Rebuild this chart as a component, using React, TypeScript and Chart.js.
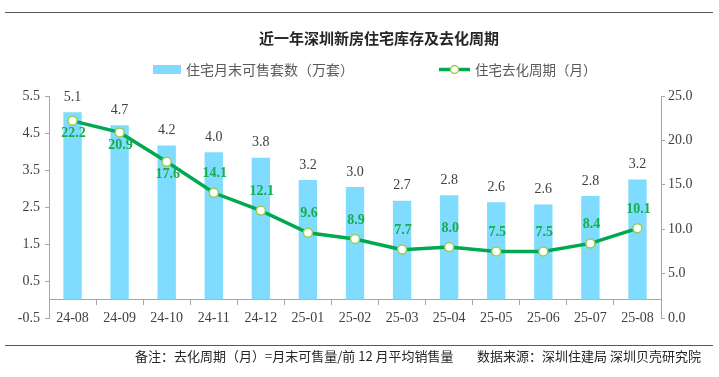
import React, { useEffect, useRef } from "react";
import { Chart, registerables } from "chart.js";

Chart.register(...registerables);

// ---------------- data ----------------
const categories = ["24-08", "24-09", "24-10", "24-11", "24-12", "25-01", "25-02", "25-03", "25-04", "25-05", "25-06", "25-07", "25-08"];
// 住宅月末可售套数（万套）
const inventory = [5.06, 4.71, 4.16, 3.98, 3.83, 3.23, 3.04, 2.67, 2.82, 2.63, 2.57, 2.8, 3.24];
// 住宅去化周期（月）
const cycle = [22.2, 20.9, 17.6, 14.1, 12.1, 9.6, 8.9, 7.7, 8.0, 7.5, 7.5, 8.4, 10.1];

const leftMin = -0.5;
const leftMax = 5.5;
const leftStep = 1;
const rightMin = 0;
const rightMax = 25;
const rightStep = 5;

const titleText = "近一年深圳新房住宅库存及去化周期";
const barLegend = "住宅月末可售套数（万套）";
const lineLegend = "住宅去化周期（月）";
const noteText = "备注：去化周期（月）=月末可售量/前 12 月平均销售量";
const sourceText = "数据来源：深圳住建局 深圳贝壳研究院";

// label placement style for the line labels
const cycleLabelSide = ["below", "below", "below", "above", "above", "above", "above", "above", "above", "above", "above", "above", "above"];

// ---------------- styles ----------------
const BAR_COLOR = "#80DCFF";
const LINE_COLOR = "#00A84F";
const LINE_LABEL_COLOR = "#14AE4E";
const POINT_BORDER = "#9ACD4E";
const AXIS_COLOR = "#A6A6A6";
const TEXT_COLOR = "#404040";
const NUM_FONT = "'Liberation Serif', serif";
const CJK_FONT = "'Noto Sans CJK SC', sans-serif";

const labelsPlugin = {
  id: "valueLabels",
  afterDatasetsDraw(chart: any) {
    const ctx = chart.ctx;
    const lineMeta = chart.getDatasetMeta(0);
    const barMeta = chart.getDatasetMeta(1);
    ctx.save();
    ctx.textAlign = "center";
    ctx.textBaseline = "middle";
    ctx.font = `14px ${NUM_FONT}`;
    ctx.fillStyle = TEXT_COLOR;
    barMeta.data.forEach((el: any, i: number) => {
      ctx.fillText(inventory[i].toFixed(1), el.x, el.y - 15);
    });
    ctx.font = `bold 14px ${NUM_FONT}`;
    ctx.fillStyle = LINE_LABEL_COLOR;
    lineMeta.data.forEach((el: any, i: number) => {
      const dy = cycleLabelSide[i] === "below" ? 13 : -19;
      ctx.fillText(cycle[i].toFixed(1), el.x + 1, el.y + dy);
    });
    ctx.restore();
  },
};

const decorPlugin = {
  id: "decor",
  afterDraw(chart: any) {
    const ctx = chart.ctx;
    ctx.save();
    // frame lines
    ctx.strokeStyle = "#595959";
    ctx.lineWidth = 1;
    ctx.beginPath();
    ctx.moveTo(5, 12.5);
    ctx.lineTo(713, 12.5);
    ctx.moveTo(5, 345.5);
    ctx.lineTo(713, 345.5);
    ctx.stroke();

    // title
    ctx.fillStyle = "#262626";
    ctx.font = `bold 15px ${CJK_FONT}`;
    ctx.textAlign = "center";
    ctx.textBaseline = "middle";
    ctx.fillText(titleText, 379, 38);

    // legend
    ctx.textAlign = "left";
    ctx.fillStyle = BAR_COLOR;
    ctx.fillRect(153, 65, 28, 9);
    ctx.fillStyle = "#595959";
    ctx.font = `14px ${CJK_FONT}`;
    ctx.fillText(barLegend, 186, 70);

    ctx.strokeStyle = LINE_COLOR;
    ctx.lineWidth = 3.5;
    ctx.beginPath();
    ctx.moveTo(439, 69.5);
    ctx.lineTo(470, 69.5);
    ctx.stroke();
    ctx.beginPath();
    ctx.arc(454.5, 69.5, 4, 0, Math.PI * 2);
    ctx.fillStyle = "#ffffff";
    ctx.fill();
    ctx.lineWidth = 1.5;
    ctx.strokeStyle = POINT_BORDER;
    ctx.stroke();
    ctx.fillStyle = "#595959";
    ctx.font = `13.5px ${CJK_FONT}`;
    ctx.fillText(lineLegend, 475, 70);

    // footer
    ctx.fillStyle = "#262626";
    ctx.font = `13px ${CJK_FONT}`;
    ctx.fillText(noteText, 135, 356);
    ctx.fillText(sourceText, 477, 356);
    ctx.restore();
  },
};

export default function App() {
  const ref = useRef<HTMLCanvasElement | null>(null);

  useEffect(() => {
    if (!ref.current) return;
    const chart = new Chart(ref.current, {
      type: "bar",
      data: {
        labels: categories,
        datasets: [
          {
            type: "line",
            label: lineLegend,
            data: cycle,
            yAxisID: "y1",
            borderColor: LINE_COLOR,
            borderWidth: 3.5,
            tension: 0,
            pointRadius: 4.5,
            pointBackgroundColor: "#ffffff",
            pointBorderColor: POINT_BORDER,
            pointBorderWidth: 1.5,
            fill: false,
          } as any,
          {
            type: "bar",
            label: barLegend,
            data: inventory,
            yAxisID: "y",
            backgroundColor: BAR_COLOR,
            categoryPercentage: 1,
            barPercentage: 0.39,
          },
        ],
      },
      plugins: [labelsPlugin, decorPlugin],
      options: {
        responsive: false,
        animation: false,
        layout: { padding: { top: 96, bottom: 59, left: 0, right: 0 } },
        plugins: {
          legend: { display: false },
          title: { display: false },
          tooltip: { enabled: false },
        },
        scales: {
          x: {
            position: { y: 0 } as any,
            offset: true,
            grid: {
              display: true,
              drawOnChartArea: false,
              drawTicks: true,
              tickLength: 5,
              color: AXIS_COLOR,
              offset: true,
            },
            border: { display: true, color: AXIS_COLOR, width: 1 },
            ticks: {
              padding: 5,
              color: TEXT_COLOR,
              font: { family: NUM_FONT, size: 14 },
              maxRotation: 0,
              autoSkip: false,
            },
          },
          y: {
            position: "left",
            min: leftMin,
            max: leftMax,
            grid: { drawOnChartArea: false, drawTicks: true, tickLength: 4, color: AXIS_COLOR },
            border: { display: true, color: AXIS_COLOR, width: 1 },
            ticks: {
              stepSize: leftStep,
              padding: 5,
              color: TEXT_COLOR,
              font: { family: NUM_FONT, size: 14 },
              callback: (v: any) => Number(v).toFixed(1),
            },
            afterFit: (s: any) => {
              s.width = 49;
            },
          },
          y1: {
            position: "right",
            min: rightMin,
            max: rightMax,
            grid: { drawOnChartArea: false, drawTicks: true, tickLength: 4, color: AXIS_COLOR },
            border: { display: true, color: AXIS_COLOR, width: 1 },
            ticks: {
              stepSize: rightStep,
              padding: 3,
              color: TEXT_COLOR,
              font: { family: NUM_FONT, size: 14 },
              callback: (v: any) => Number(v).toFixed(1),
            },
            afterFit: (s: any) => {
              s.width = 58;
            },
          },
        },
      } as any,
    });
    return () => chart.destroy();
  }, []);

  return (
    <div style={{ position: "absolute", left: 0, top: 0, width: 719, height: 377, background: "#ffffff" }}>
      <canvas ref={ref} width={719} height={377} style={{ display: "block", width: 719, height: 377 }} />
    </div>
  );
}
